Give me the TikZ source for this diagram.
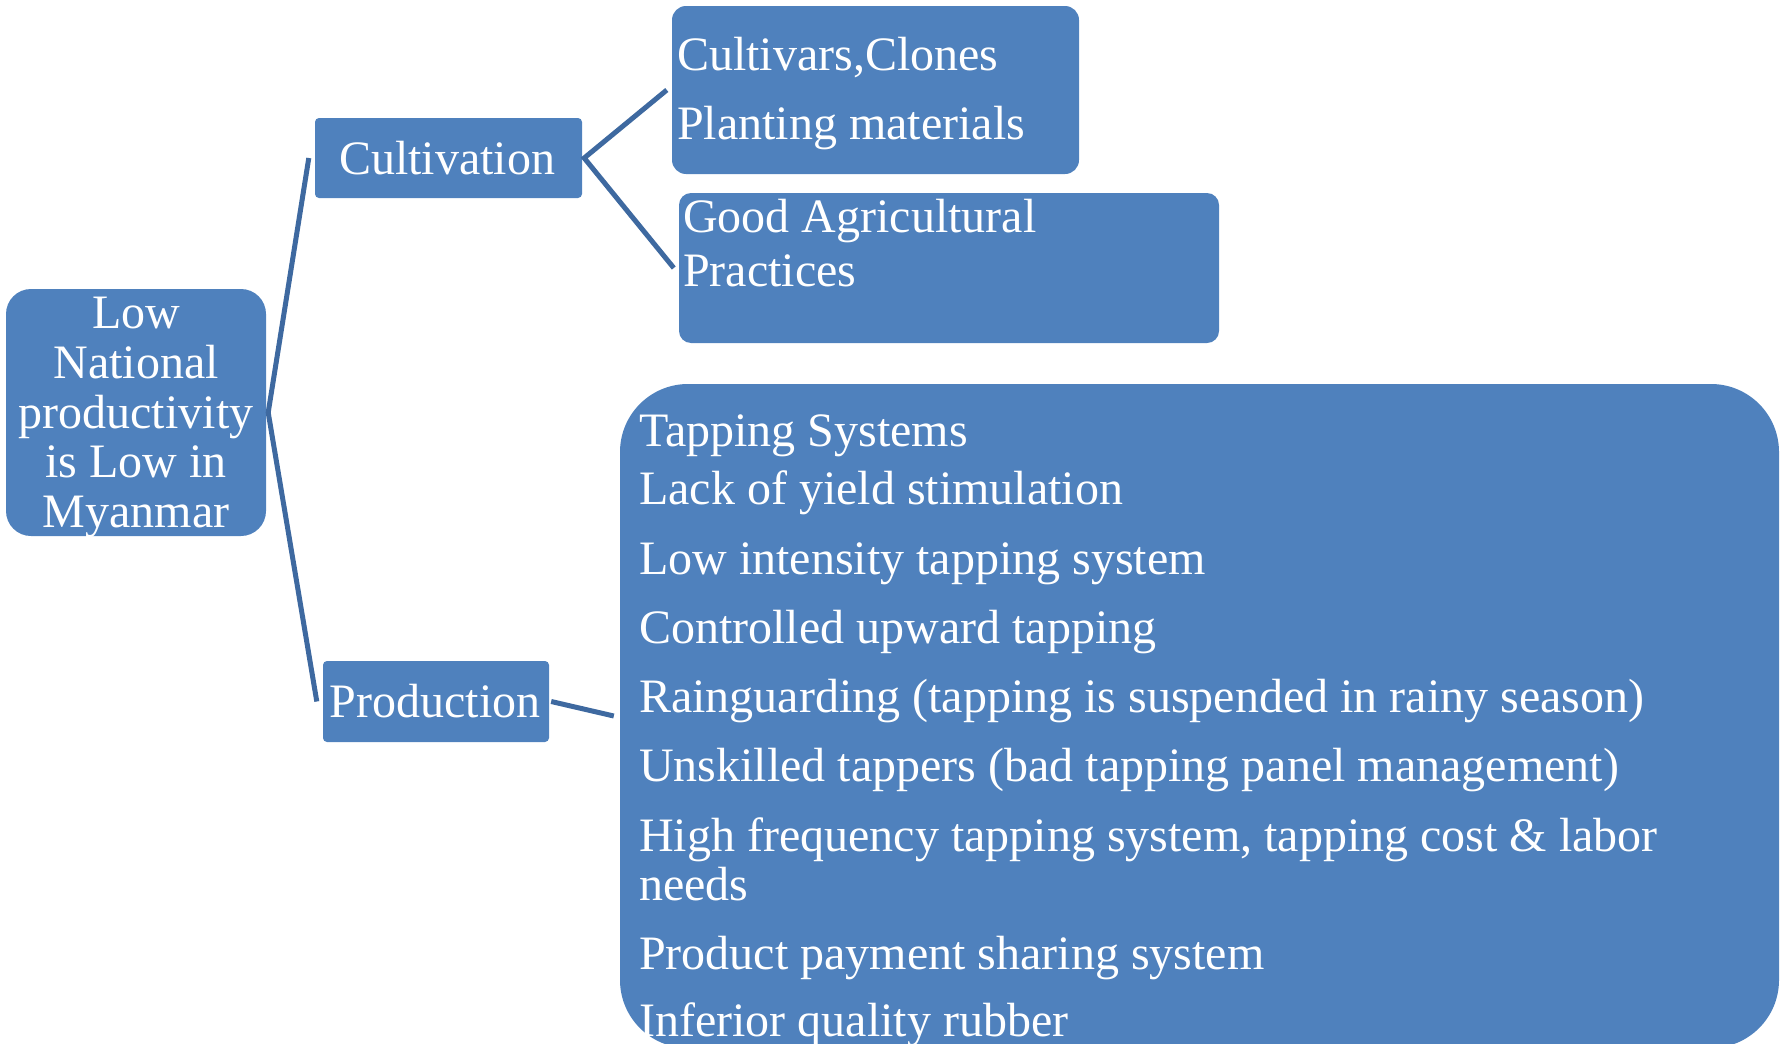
\documentclass[tikz,border=0pt]{standalone}
\usepackage{fontspec}
\setmainfont{Liberation Serif}
\definecolor{boxblue}{HTML}{4F81BD}
\definecolor{lineblue}{HTML}{3E69A0}
\begin{document}
\begin{tikzpicture}[x=1pt,y=-1pt,
  box/.style={fill=boxblue, draw=none, inner sep=0pt},
  conn/.style={draw=lineblue, line width=5pt},
  lbl/.style={text=white, font=\fontsize{48}{50}\selectfont, inner sep=0pt, anchor=base west},
  clbl/.style={lbl, anchor=base}]
\useasboundingbox (0,0) rectangle (1781,1044);
\clip (0,0) rectangle (1781,1044);
% boxes
\node[box, rounded corners=25pt, minimum width=260pt, minimum height=247pt] (root) at (136,412.5) {};
\node[box, rounded corners=4pt, minimum width=267pt, minimum height=80pt] (cult) at (448.5,158) {};
\node[box, rounded corners=4pt, minimum width=226pt, minimum height=81pt] (prod) at (436,701.5) {};
\node[box, rounded corners=14pt, minimum width=407pt, minimum height=168pt] (cv) at (875.5,90) {};
\node[box, rounded corners=12pt, minimum width=540pt, minimum height=150pt] (gap) at (949,268) {};
\node[box, rounded corners=68pt, minimum width=1159pt, minimum height=664pt] (big) at (1199.5,716) {};
% connectors
\draw[conn] ([xshift=-6pt]cult.west) -- ([xshift=2pt]root.east) -- ([xshift=-6pt]prod.west);
\draw[conn] ([xshift=-5pt]cv.west) -- ([xshift=2pt]cult.east) -- ([xshift=-5pt]gap.west);
\draw[conn] ([xshift=2pt]prod.east) -- ([xshift=-6pt]big.west);
% root text
\node[clbl] (r1) at (136,328) {Low};
\node[clbl] (r2) at (136,378) {National};
\node[clbl] (r3) at (136,428) {productivity};
\node[clbl] (r4) at (136,477) {is Low in};
\node[clbl] (r5) at (136,527) {Myanmar};
% level 1
\node[clbl] (c1) at (447,174) {Cultivation};
\node[clbl] (p1) at (435,717) {Production};
% cultivation children
\node[lbl] (cv1) at (677,70) {Cultivars,Clones};
\node[lbl] (cv2) at (677,139) {Planting materials};
\node[lbl] (g1) at (683,232) {Good Agricultural};
\node[lbl] (g2) at (683,286) {Practices};
% production list
\node[lbl] (t1) at (639,446) {Tapping Systems};
\node[lbl] (t2) at (639,504) {Lack of yield stimulation};
\node[lbl] (t3) at (639,574) {Low intensity tapping system};
\node[lbl] (t4) at (639,643) {Controlled upward tapping};
\node[lbl] (t5) at (639,712) {Rainguarding (tapping is suspended in rainy season)};
\node[lbl] (t6) at (639,781) {Unskilled tappers (bad tapping panel management)};
\node[lbl] (t7) at (639,851) {High frequency tapping system, tapping cost \& labor};
\node[lbl] (t8) at (639,900) {needs};
\node[lbl] (t9) at (639,969) {Product payment sharing system};
\node[lbl] (t10) at (639,1036) {Inferior quality rubber};
\end{tikzpicture}
\end{document}
